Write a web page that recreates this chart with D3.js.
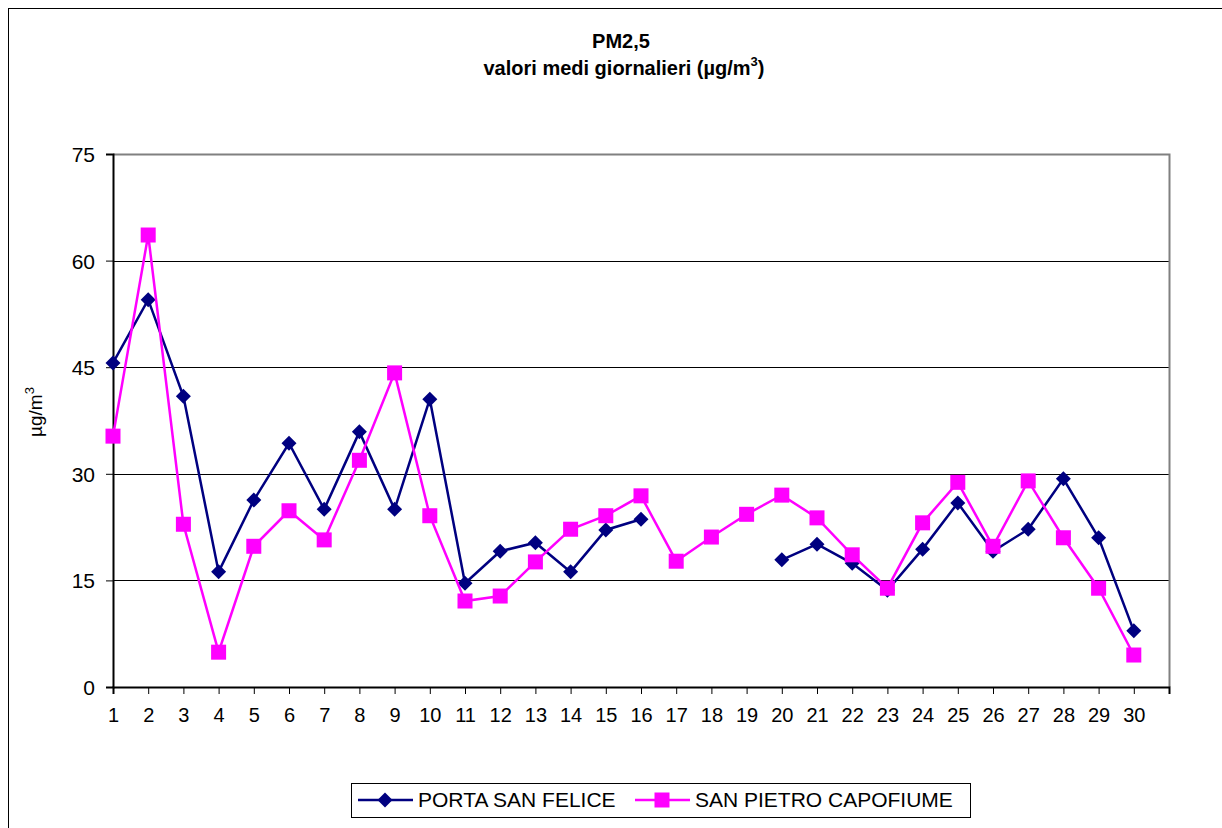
<!DOCTYPE html>
<html>
<head>
<meta charset="utf-8">
<script src="https://cdn.jsdelivr.net/npm/d3@7"></script>
<style>
  body { margin: 0; background: #fff; }
  svg { font-family: "Liberation Sans", Arial, sans-serif; }
</style>
</head>
<body>
<div id="chart"></div>
<script>
const days = d3.range(1, 31);
const portaSanFelice = [45.6, 54.5, 40.9, 16.2, 26.3, 34.3, 25.0, 35.9, 25.0, 40.5,
  14.6, 19.1, 20.3, 16.2, 22.1, 23.6, null, null, null, 17.9,
  20.1, 17.4, 13.6, 19.4, 25.9, 19.1, 22.2, 29.3, 21.0, 7.9];
const sanPietro = [35.3, 63.6, 22.9, 4.9, 19.8, 24.8, 20.7, 31.9, 44.2, 24.1,
  12.1, 12.8, 17.6, 22.2, 24.1, 26.9, 17.7, 21.1, 24.3, 27.0,
  23.8, 18.6, 13.9, 23.1, 28.8, 19.8, 29.0, 21.0, 13.9, 4.5];
const yTicks = [0, 15, 30, 45, 60, 75];

const width = 1222, height = 828;
const plot = { left: 113, right: 1169, top: 154, bottom: 687 };
const font = "Liberation Sans, Arial, sans-serif";

const svg = d3.select("#chart").append("svg")
  .attr("width", width).attr("height", height);

// chart area border (runs off the picture)
svg.append("rect")
  .attr("x", 8.5).attr("y", 8.5)
  .attr("width", 1240).attr("height", 840)
  .attr("fill", "none").attr("stroke", "#000").attr("stroke-width", 1);

const x = d3.scaleLinear().domain([1, 31]).range([plot.left, plot.right]);
const y = d3.scaleLinear().domain([0, 75]).range([plot.bottom, plot.top]);

// gridlines
svg.append("g").selectAll("line")
  .data(yTicks.filter(d => d > 0 && d < 75))
  .join("line")
  .attr("x1", plot.left).attr("x2", plot.right)
  .attr("y1", d => Math.round(y(d)) + 0.5).attr("y2", d => Math.round(y(d)) + 0.5)
  .attr("stroke", "#000").attr("stroke-width", 1);

// plot area border top/right (grey)
svg.append("path")
  .attr("d", `M${plot.left},${plot.top + 0.5}H${plot.right + 0.5}V${plot.bottom}`)
  .attr("fill", "none").attr("stroke", "#808080").attr("stroke-width", 2);

// y axis
const yAxis = svg.append("g")
  .attr("transform", `translate(${plot.left},0)`)
  .call(d3.axisLeft(y).tickValues(yTicks).tickSize(7).tickPadding(11));
yAxis.select(".domain").attr("stroke-width", 2);
yAxis.selectAll("text").attr("font-size", 21).attr("fill", "#000")
  .attr("font-family", font).attr("dy", "0.36em");

// x axis
const xAxis = svg.append("g")
  .attr("transform", `translate(0,${plot.bottom})`)
  .call(d3.axisBottom(x).tickValues(d3.range(1, 32)).tickSize(7).tickPadding(14)
    .tickFormat(d => d <= 30 ? d : ""));
xAxis.select(".domain").attr("stroke-width", 2);
xAxis.selectAll("text").attr("font-size", 20).attr("fill", "#000")
  .attr("font-family", font);

// titles
svg.append("text").attr("x", 621).attr("y", 48).attr("text-anchor", "middle")
  .attr("font-size", 20).attr("font-weight", "bold").text("PM2,5");
const t2 = svg.append("text").attr("x", 624).attr("y", 75).attr("text-anchor", "middle")
  .attr("font-size", 20).attr("font-weight", "bold");
t2.append("tspan").text("valori medi giornalieri (µg/m");
t2.append("tspan").attr("dy", -9).attr("font-size", 13).text("3");
t2.append("tspan").attr("dy", 9).text(")");

const yl = svg.append("text")
  .attr("transform", "translate(42,412) rotate(-90)")
  .attr("text-anchor", "middle").attr("font-size", 19);
yl.append("tspan").text("µg/m");
yl.append("tspan").attr("dy", -8).attr("font-size", 13).text("3");

// series
const series = [
  { name: "PORTA SAN FELICE", values: portaSanFelice, color: "#000080", shape: "diamond" },
  { name: "SAN PIETRO CAPOFIUME", values: sanPietro, color: "#FF00FF", shape: "square" }
];

const line = d3.line()
  .defined(d => d.v != null)
  .x(d => x(d.day)).y(d => y(d.v));

const diamond = s => `M0,${-s}L${s},0L0,${s}L${-s},0Z`;

series.forEach(s => {
  const pts = days.map((day, i) => ({ day, v: s.values[i] }));
  const g = svg.append("g");
  g.append("path").datum(pts).attr("d", line)
    .attr("fill", "none").attr("stroke", s.color).attr("stroke-width", 2.5);
  const m = g.selectAll(".m").data(pts.filter(d => d.v != null)).join("g")
    .attr("transform", d => `translate(${x(d.day)},${y(d.v)})`);
  if (s.shape === "diamond") {
    m.append("path").attr("d", diamond(7.5)).attr("fill", s.color);
  } else {
    m.append("rect").attr("x", -7.5).attr("y", -7.5).attr("width", 15).attr("height", 15)
      .attr("fill", s.color);
  }
});

// legend
const lg = svg.append("g");
lg.append("rect").attr("x", 351.5).attr("y", 783.5).attr("width", 619).attr("height", 34)
  .attr("fill", "#fff").attr("stroke", "#000").attr("stroke-width", 1);
const legendItems = [
  { s: series[0], x0: 358 },
  { s: series[1], x0: 635 }
];
legendItems.forEach(({ s, x0 }) => {
  lg.append("line").attr("x1", x0).attr("x2", x0 + 55).attr("y1", 800).attr("y2", 800)
    .attr("stroke", s.color).attr("stroke-width", 2.5);
  if (s.shape === "diamond") {
    lg.append("path").attr("transform", `translate(${x0 + 27},800)`)
      .attr("d", diamond(7.5)).attr("fill", s.color);
  } else {
    lg.append("rect").attr("x", x0 + 27 - 7.5).attr("y", 800 - 7.5)
      .attr("width", 15).attr("height", 15).attr("fill", s.color);
  }
  lg.append("text").attr("x", x0 + 60).attr("y", 807).attr("font-size", 21)
    .text(s.name);
});
</script>
</body>
</html>
